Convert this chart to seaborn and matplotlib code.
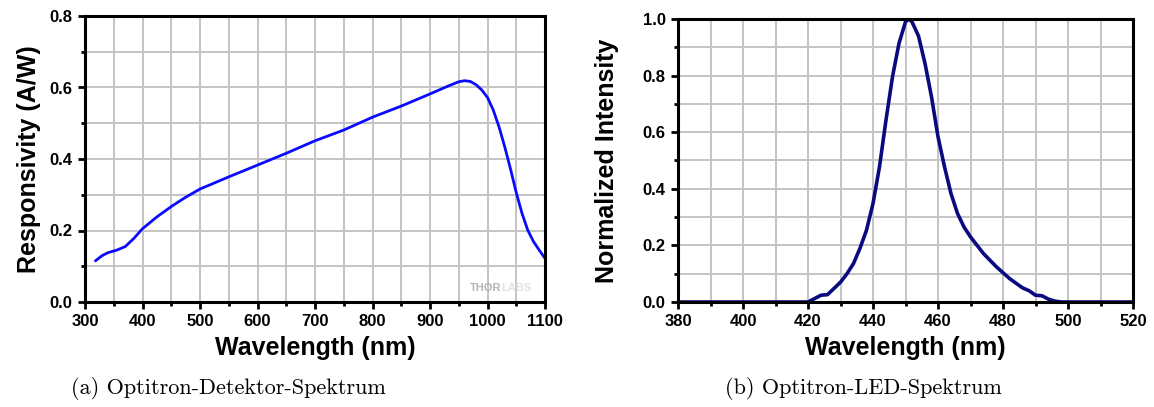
import matplotlib
matplotlib.use("Agg")
import matplotlib.pyplot as plt
import seaborn as sns
import numpy as np
import pandas as pd
from matplotlib.ticker import MultipleLocator

# detector responsivity (Thorlabs curve)
det_nm = [318, 330, 340, 355, 370, 385, 400, 425, 450, 475, 500, 550, 600, 650, 700, 750,
          800, 850, 900, 930, 950, 960, 970, 980, 990, 1000, 1010, 1020, 1030, 1040, 1050,
          1060, 1070, 1080, 1090, 1100]
det_resp = [0.115, 0.13, 0.138, 0.145, 0.155, 0.178, 0.205, 0.238, 0.267, 0.293, 0.316,
            0.35, 0.383, 0.416, 0.451, 0.481, 0.517, 0.548, 0.582, 0.603, 0.616, 0.619,
            0.617, 0.608, 0.593, 0.572, 0.537, 0.49, 0.434, 0.372, 0.306, 0.248, 0.201,
            0.169, 0.145, 0.122]

# LED spectrum, normalized
led_nm = [380, 400, 420, 422, 424, 426, 428, 430, 432, 434, 436, 438, 440, 442, 444, 446,
          448, 450, 451, 452, 454, 456, 458, 460, 462, 464, 466, 468, 470, 474, 478, 482,
          486, 488, 490, 492, 494, 496, 498, 500, 520]
led_int = [0.0, 0.0, 0.0, 0.012, 0.024, 0.026, 0.048, 0.07, 0.1, 0.136, 0.19, 0.254, 0.348,
           0.478, 0.643, 0.796, 0.914, 0.99, 1.0, 0.99, 0.94, 0.843, 0.725, 0.584, 0.478,
           0.383, 0.313, 0.265, 0.23, 0.171, 0.124, 0.083, 0.05, 0.04, 0.024, 0.022, 0.01,
           0.003, 0.0, 0.0, 0.0]

det = pd.DataFrame({"nm": det_nm, "resp": det_resp})
led = pd.DataFrame({"nm": led_nm, "int": led_int})

sns.set_style("white")
plt.rcParams['font.family'] = ['Liberation Sans', 'DejaVu Sans']
plt.rcParams.update({"text.color": "black", "axes.labelcolor": "black",
                     "xtick.color": "black", "ytick.color": "black"})

fig = plt.figure(figsize=(11.54, 4.07), dpi=100)
ax1 = fig.add_axes([85 / 1154, 1 - 302 / 407, 460 / 1154, 286 / 407])
ax2 = fig.add_axes([678 / 1154, 1 - 302 / 407, 455 / 1154, 283 / 407])

sns.lineplot(data=det, x="nm", y="resp", ax=ax1, color="#0a0aff", linewidth=2)
sns.lineplot(data=led, x="nm", y="int", ax=ax2, color="#0a0a80", linewidth=2.6)

ax1.set_xlim(300, 1100)
ax1.set_ylim(0, 0.8)
ax1.xaxis.set_major_locator(MultipleLocator(100))
ax1.xaxis.set_minor_locator(MultipleLocator(50))
ax1.yaxis.set_major_locator(MultipleLocator(0.2))
ax1.yaxis.set_minor_locator(MultipleLocator(0.1))

ax2.set_xlim(380, 520)
ax2.set_ylim(0, 1.0)
ax2.xaxis.set_major_locator(MultipleLocator(20))
ax2.xaxis.set_minor_locator(MultipleLocator(10))
ax2.yaxis.set_major_locator(MultipleLocator(0.2))
ax2.yaxis.set_minor_locator(MultipleLocator(0.1))

for ax in (ax1, ax2):
    ax.grid(True, which="both", color="#c4c4c4", linewidth=1.4)
    ax.set_axisbelow(True)
    for s in ax.spines.values():
        s.set_color("black")
        s.set_linewidth(2.2)
    ax.tick_params(which="major", direction="out", length=5, width=2, bottom=True, left=True,
                   labelsize=12, pad=4, colors="black")
    ax.tick_params(which="minor", direction="out", length=3, width=2, bottom=True, left=True,
                   colors="black")
    for lab in ax.get_xticklabels() + ax.get_yticklabels():
        lab.set_fontweight("bold")
    ax.set_xlabel("Wavelength (nm)", fontsize=18, fontweight="bold", color="black")
    ax.xaxis.label.set_va("center")

ax1.xaxis.set_label_coords(0.5, -0.161)
ax2.xaxis.set_label_coords(0.5, -0.163)

ax1.set_ylabel("Responsivity (A/W)", fontsize=18, fontweight="bold", color="black")
ax1.yaxis.set_label_coords(-0.122, 0.5)
ax1.yaxis.label.set_va("center")
ax2.set_ylabel("Normalized Intensity", fontsize=18, fontweight="bold", color="black")
ax2.yaxis.set_label_coords(-0.156, 0.5)
ax2.yaxis.label.set_va("center")

# watermark
ax1.text(0.905, 0.05, "THOR", transform=ax1.transAxes, ha="right", va="center",
         fontsize=8, fontweight="bold", color="#b4b4b4")
ax1.text(0.905, 0.05, "LABS", transform=ax1.transAxes, ha="left", va="center",
         fontsize=8, fontweight="bold", color="#e2e2e2")

cap = ['cmr10', 'DejaVu Serif']
fig.text(228 / 1154, 1 - 389 / 407, "(a) Optitron-Detektor-Spektrum", ha="center", va="center",
         fontsize=16, family=cap, color="black")
fig.text(863 / 1154, 1 - 389 / 407, "(b) Optitron-LED-Spektrum", ha="center", va="center",
         fontsize=16, family=cap, color="black")

fig.savefig("out.png", dpi=100)
